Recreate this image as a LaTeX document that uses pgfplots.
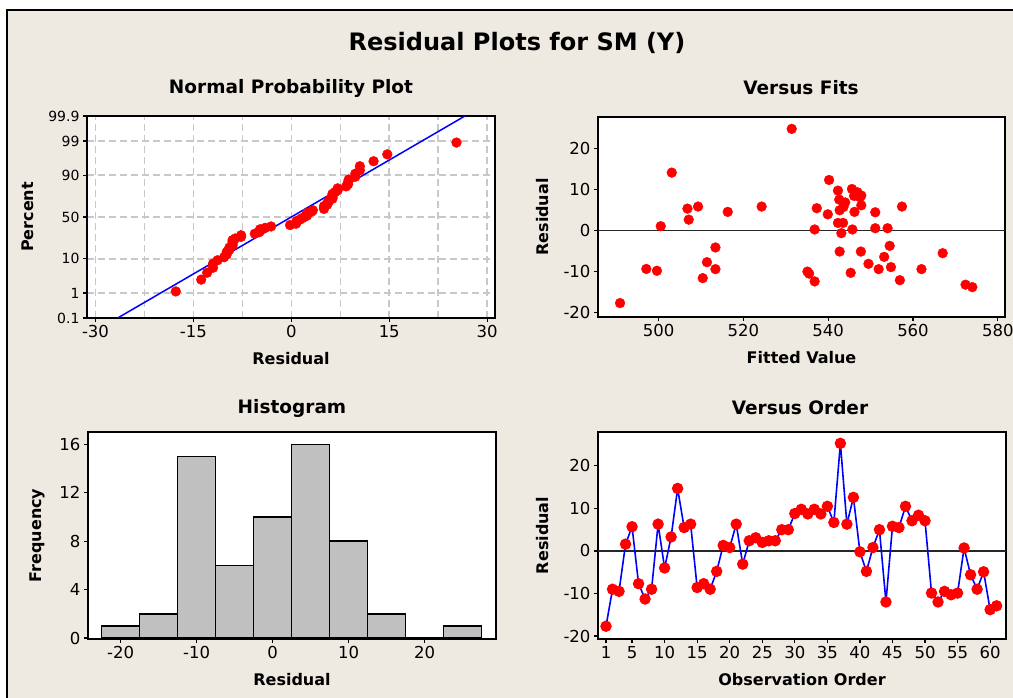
\documentclass[border=0pt]{standalone}
\usepackage{pgfplots}
\pgfplotsset{compat=1.18}
\usepackage{fontspec}
\setmainfont{DejaVu Sans}
\definecolor{bg}{RGB}{238,234,225}
\definecolor{histgray}{RGB}{192,192,192}
\definecolor{gridgray}{RGB}{200,200,200}
\definecolor{mred}{RGB}{255,0,0}
\definecolor{mblue}{RGB}{0,0,255}
\pgfplotsset{
  mtb/.style={
    scale only axis,
    anchor=south west,
    axis line style={line width=1.8pt},
    tick align=outside,
    tick pos=left,
    major tick length=4pt,
    every tick/.style={black, line width=1.2pt},
    tick label style={font=\fontsize{16.5}{16.5}\selectfont},
    label style={font=\bfseries\fontsize{16}{16}\selectfont},
    xlabel style={yshift=-7pt}, ylabel style={yshift=8pt},
    /pgf/number format/assume math mode=true,
    axis background/.style={fill=white},
    clip=true,
  },
  dots/.style={only marks, mark=*, mark size=4.9pt, mark options={fill=mred, draw=mred}},
}
\begin{document}
\begin{tikzpicture}[x=1pt,y=1pt]
\useasboundingbox (0,0) rectangle (1013,698);
\fill[white] (0,0) rectangle (1013,698);
\fill[bg] (7,0) rectangle (1013,688);
\draw[black, line width=1.3pt] (7,0) -- (7,688) -- (1013,688);
\node[font=\bfseries\fontsize{24}{24}\selectfont] at (517,655) {Residual Plots for SM (Y)};
\node[font=\bfseries\fontsize{18.5}{18.5}\selectfont] at (291,610) {Normal Probability Plot};
\node[font=\bfseries\fontsize{18.5}{18.5}\selectfont] at (801,610) {Versus Fits};
\node[font=\bfseries\fontsize{18.5}{18.5}\selectfont] at (292,290) {Histogram};
\node[font=\bfseries\fontsize{18.5}{18.5}\selectfont] at (800,290) {Versus Order};

% Normal probability plot
\begin{axis}[mtb, at={(87pt,380pt)}, width=408pt, height=202pt,
  xmin=-31.3, xmax=31.2, ymin=-3.09, ymax=3.09,
  xtick={-30,-15,0,15,30},
  minor xtick={-22.5,-7.5,7.5,22.5}, minor tick length=0pt,
  ytick={-3.090,-2.326,-1.2816,0,1.2816,2.326,3.090},
  yticklabels={0.1,1,10,50,90,99,99.9},
  yticklabel style={font=\fontsize{14}{14}\selectfont},
  xmajorgrids, xminorgrids, ymajorgrids,
  grid style={gridgray, line width=1.5pt, dash pattern=on 7pt off 4pt},
  minor grid style={gridgray, line width=1.5pt, dash pattern=on 7pt off 4pt},
  xlabel={Residual}, ylabel={Percent},
]
\addplot[mblue, line width=1.5pt] coordinates {(-26.6,-3.09) (26.6,3.09)};
\addplot[dots] coordinates {
(-17.7,-2.277) (-13.8,-1.916) (-12.9,-1.706) (-12.0,-1.553) (-12.0,-1.429)
(-11.3,-1.324) (-10.3,-1.231) (-9.9,-1.148) (-9.9,-1.073) (-9.5,-1.003)
(-9.5,-0.937) (-9.0,-0.876) (-9.0,-0.817) (-9.0,-0.762) (-9.0,-0.708)
(-8.6,-0.657) (-7.7,-0.607) (-7.7,-0.558) (-5.6,-0.511) (-4.9,-0.465)
(-4.8,-0.420) (-4.8,-0.376) (-4.0,-0.332) (-3.1,-0.290) (-0.2,-0.247)
(0.7,-0.206) (0.8,-0.164) (0.8,-0.123) (1.3,-0.082) (1.6,-0.041)
(2.0,0) (2.4,0.041) (2.4,0.082) (2.4,0.123) (3.1,0.164)
(3.3,0.206) (5.0,0.247) (5.0,0.290) (5.0,0.332) (5.5,0.376)
(5.5,0.420) (5.7,0.465) (5.8,0.511) (6.3,0.558) (6.3,0.607)
(6.3,0.657) (6.3,0.708) (6.7,0.762) (7.1,0.817) (7.1,0.876)
(8.4,0.937) (8.7,1.003) (8.7,1.073) (8.8,1.148) (9.8,1.231)
(9.8,1.324) (10.5,1.429) (10.5,1.553) (12.6,1.706) (14.7,1.916)
(25.3,2.277)};
\end{axis}

% Versus fits
\begin{axis}[mtb, at={(598pt,381pt)}, width=407pt, height=200pt,
  xmin=485.7, xmax=581.7, ymin=-21.1, ymax=27.8,
  xtick={500,520,540,560,580}, ytick={-20,-10,0,10,20},
  xlabel={Fitted Value}, ylabel={Residual},
]
\addplot[black!85, line width=1.4pt] coordinates {(485.7,0) (581.7,0)};
\addplot[dots] coordinates {
(490.9,-17.7) (497.1,-9.35) (499.6,-9.8) (500.5,1.1) (503.1,14.2) (506.8,5.4)
(507.1,2.7) (509.3,5.9) (510.4,-11.6) (511.4,-7.7) (513.4,-4.1) (513.4,-9.4)
(516.3,4.6) (524.3,5.9) (531.4,24.9) (535.1,-10.0) (535.5,-10.5) (536.8,-12.4)
(536.8,0.3) (537.3,5.5) (539.9,4.0) (540.2,12.4) (542.3,9.8) (542.3,1.9)
(542.6,7.6) (542.7,5.0) (542.7,-5.1) (543.1,-0.6) (543.5,1.9) (543.6,5.8)
(544.0,6.9) (545.3,-10.3) (545.6,10.2) (545.7,0.3) (546.1,8.5) (546.2,4.6)
(546.9,9.4) (547.5,8.2) (547.8,8.6) (547.8,6.2) (547.7,-5.1) (549.5,-8.1)
(551.1,4.5) (551.1,0.6) (551.9,-9.4) (553.2,-6.4) (554.0,0.6) (554.5,-3.7)
(554.8,-8.9) (556.9,-12.1) (557.4,5.9) (562.0,-9.4) (567.0,-5.5) (572.4,-13.2)
(574.0,-13.8)};
\end{axis}

% Histogram
\begin{axis}[mtb, at={(88pt,59pt)}, width=408pt, height=207pt,
  xmin=-24.3, xmax=29.4, ymin=-0.08, ymax=17.03,
  xtick={-20,-10,0,10,20}, ytick={0,4,8,12,16},
  xlabel={Residual}, ylabel={Frequency},
]
\addplot[ybar interval, fill=histgray, draw=black, line width=1.5pt] coordinates {
(-22.5,1) (-17.5,2) (-12.5,15) (-7.5,6) (-2.5,10) (2.5,16) (7.5,8) (12.5,2) (17.5,0) (22.5,1) (27.5,1)};
\end{axis}

% Versus order
\begin{axis}[mtb, at={(598pt,59pt)}, width=408pt, height=207pt,
  xmin=-0.23, xmax=62.44, ymin=-20.7, ymax=27.97,
  xtick={1,5,10,15,20,25,30,35,40,45,50,55,60}, ytick={-20,-10,0,10,20},
  xlabel={Observation Order}, ylabel={Residual},
]
\addplot[black!85, line width=1.4pt] coordinates {(-0.23,0) (62.44,0)};
\addplot[mblue, line width=1.6pt, mark=*, mark size=4.9pt, mark options={fill=mred, draw=mred}] coordinates {
(1,-17.7) (2,-9.0) (3,-9.5) (4,1.6) (5,5.7) (6,-7.7) (7,-11.3) (8,-9.0) (9,6.3) (10,-4.0)
(11,3.3) (12,14.7) (13,5.5) (14,6.3) (15,-8.6) (16,-7.7) (17,-9.0) (18,-4.8) (19,1.3) (20,0.8)
(21,6.3) (22,-3.1) (23,2.4) (24,3.1) (25,2.0) (26,2.4) (27,2.4) (28,5.0) (29,5.0) (30,8.8)
(31,9.8) (32,8.7) (33,9.8) (34,8.7) (35,10.5) (36,6.7) (37,25.3) (38,6.3) (39,12.6) (40,-0.2)
(41,-4.8) (42,0.8) (43,5.0) (44,-12.0) (45,5.8) (46,5.5) (47,10.5) (48,7.1) (49,8.4) (50,7.1)
(51,-9.9) (52,-12.0) (53,-9.5) (54,-10.3) (55,-9.9) (56,0.7) (57,-5.6) (58,-9.0) (59,-4.9) (60,-13.8)
(61,-12.9)};
\end{axis}
\end{tikzpicture}
\end{document}
